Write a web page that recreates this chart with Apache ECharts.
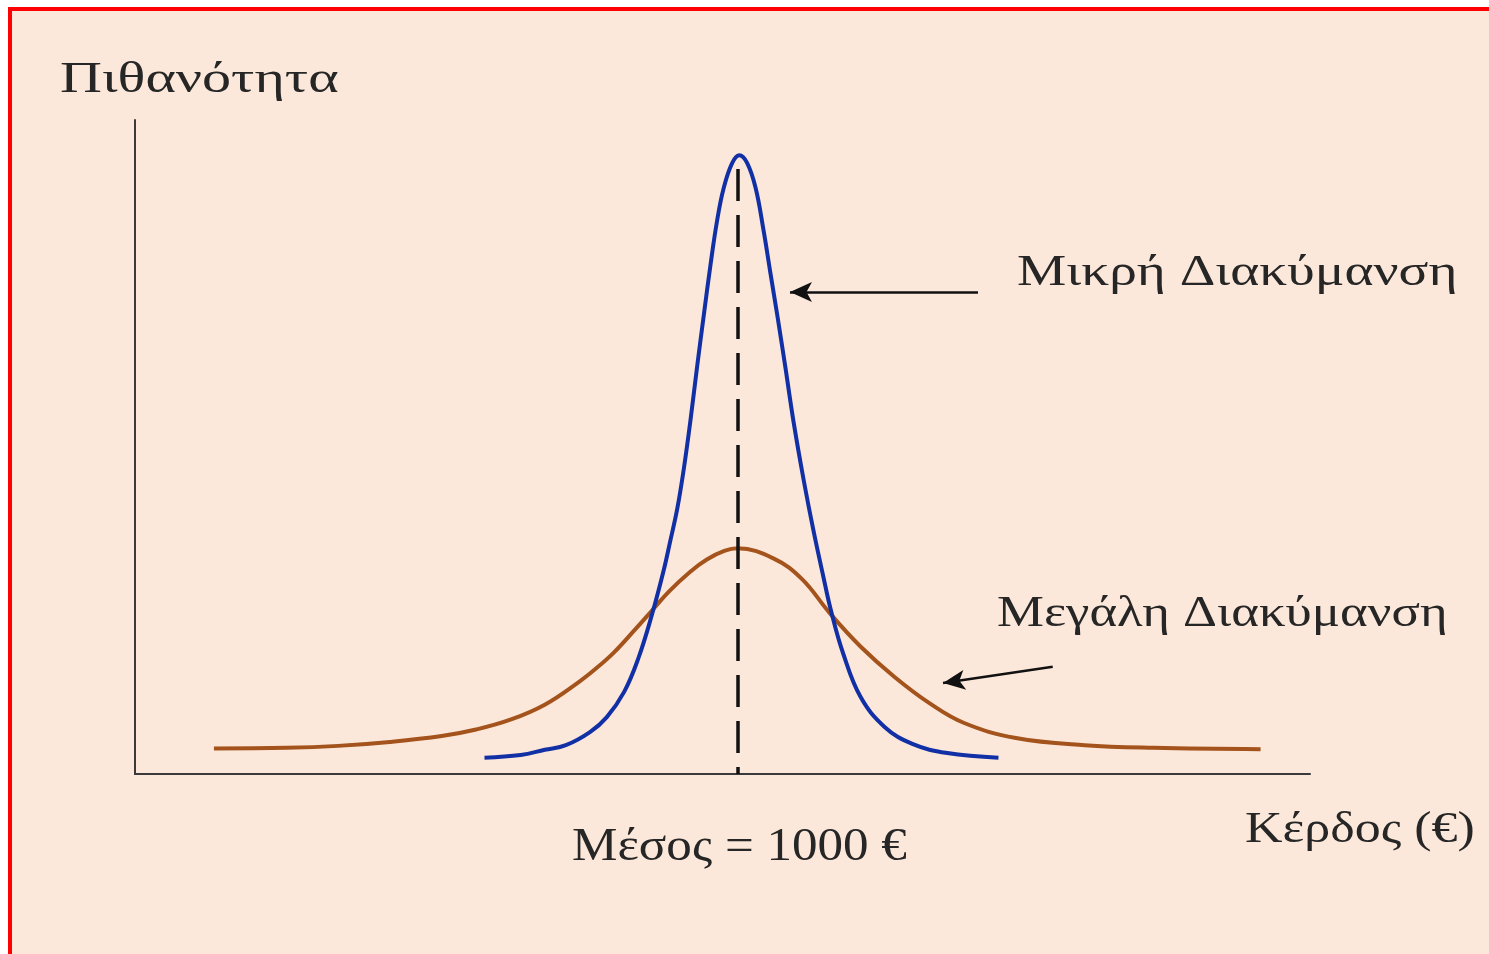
<!DOCTYPE html>
<html>
<head>
<meta charset="utf-8">
<script src="https://cdn.jsdelivr.net/npm/echarts@6/dist/echarts.min.js"></script>
<style>
  html, body { margin: 0; padding: 0; background: #ffffff; overflow: hidden; }
  #frame {
    position: absolute; left: 8px; top: 7px; width: 1520px; height: 1000px;
    border: 4px solid #ff0000; background: #fce8da; box-sizing: border-box;
  }
  #chart { position: absolute; left: 0; top: 0; width: 1489px; height: 954px; }
</style>
</head>
<body>
<div id="frame"></div>
<div id="chart"></div>
<script>
// Profit (€) on the x axis, relative probability on the y axis
const MEAN = 1000;

// Narrow distribution (small variance)
const smallVarX = [580, 640, 680, 715, 755, 783, 812, 835, 858, 877, 888, 900, 911, 922, 933, 944, 955, 966, 977, 991, 1003,
                   1016, 1030, 1043, 1054, 1066, 1079, 1093, 1110, 1126, 1143, 1155, 1175, 1204, 1244, 1290, 1348, 1433];
const smallVarY = [2.5, 2.9, 3.7, 4.4, 6.4, 8.7, 12.6, 17.6, 24.4, 31.0, 35.5, 40.6, 46.8, 54.2, 62.4, 70.2, 77.8, 84.6, 89.6, 93.4, 94.6,
                   93.4, 89.6, 83.2, 76.9, 70.1, 62.4, 53.8, 44.8, 37.2, 29.9, 25.0, 18.5, 11.8, 7.2, 4.6, 3.2, 2.5];

// Wide distribution (large variance)
const largeVarX = [131, 251, 337, 423, 509, 566, 623, 680, 737, 766, 795, 829, 858, 886, 921, 949, 978, 1000,
                   1061, 1107, 1153, 1204, 1261, 1319, 1376, 1462, 1576, 1691, 1868];
const largeVarY = [3.9, 4.0, 4.3, 4.9, 5.8, 6.8, 8.3, 10.6, 14.1, 16.2, 18.6, 22.0, 25.0, 27.9, 30.9, 32.8, 34.1, 34.5,
                   32.9, 29.8, 24.6, 19.5, 14.8, 10.8, 7.8, 5.5, 4.4, 4.0, 3.8];

// Annotation arrows: [fromX, fromY, toX, toY]
const smallArrow = [1399, 73.7, 1087, 73.7];
const largeArrow = [1523, 16.4, 1341, 13.9];

const zip = (xs, ys) => xs.map((x, i) => [x, ys[i]]);

const serifFont = '"Liberation Serif", "DejaVu Serif", serif';
const textColor = '#262626';

const chart = echarts.init(document.getElementById('chart'), null, { renderer: 'canvas' });

function arrowLine(a) {
  return [
    { coord: [a[0], a[1]], symbol: 'none' },
    { coord: [a[2], a[3]], symbol: 'arrow', symbolSize: [15, 22] }
  ];
}

// Serif label, stretched horizontally around its left edge
function label(text, x, y, size, stretch) {
  return {
    type: 'text', x: x, y: y, scaleX: stretch, scaleY: 1,
    style: { text: text, font: size + 'px ' + serifFont, fill: textColor, align: 'left', verticalAlign: 'middle' }
  };
}

chart.setOption({
  backgroundColor: 'transparent',
  animation: false,
  grid: { left: 135, right: 179, top: 120, bottom: 180 },
  xAxis: {
    type: 'value', min: 0, max: 1950,
    axisLine: { show: true, lineStyle: { color: '#3a3a3a', width: 2 } },
    axisTick: { show: false }, axisLabel: { show: false }, splitLine: { show: false }
  },
  yAxis: {
    type: 'value', min: 0, max: 100,
    axisLine: { show: true, lineStyle: { color: '#3a3a3a', width: 2 } },
    axisTick: { show: false }, axisLabel: { show: false }, splitLine: { show: false }
  },
  series: [
    {
      name: 'Μεγάλη Διακύμανση',
      type: 'line',
      data: zip(largeVarX, largeVarY),
      smooth: 0.4,
      showSymbol: false,
      lineStyle: { color: '#a3531b', width: 4 },
      z: 2
    },
    {
      name: 'Μικρή Διακύμανση',
      type: 'line',
      data: zip(smallVarX, smallVarY),
      smooth: 0.4,
      showSymbol: false,
      lineStyle: { color: '#1230a6', width: 4 },
      z: 3,
      markLine: {
        silent: true,
        animation: false,
        label: { show: false },
        lineStyle: { color: '#111', width: 3.5, type: [32, 14] },
        symbol: 'none',
        z: 5,
        data: [
          [ { coord: [MEAN, 92.5], symbol: 'none' }, { coord: [MEAN, 0], symbol: 'none' } ]
        ]
      }
    },
    {
      name: 'arrows',
      type: 'line',
      data: [],
      markLine: {
        silent: true,
        animation: false,
        label: { show: false },
        lineStyle: { color: '#111', width: 2.5, type: 'solid' },
        data: [arrowLine(smallArrow), arrowLine(largeArrow)]
      }
    }
  ],
  graphic: [
    label('Πιθανότητα', 60, 80, 44, 1.32),
    label('Μικρή Διακύμανση', 1017, 273, 44, 1.26),
    label('Μεγάλη Διακύμανση', 997, 614, 44, 1.2),
    label('Μέσος = 1000 €', 572, 848, 46, 1.11),
    label('Κέρδος (€)', 1245, 830, 44, 1.18)
  ]
});
</script>
</body>
</html>
